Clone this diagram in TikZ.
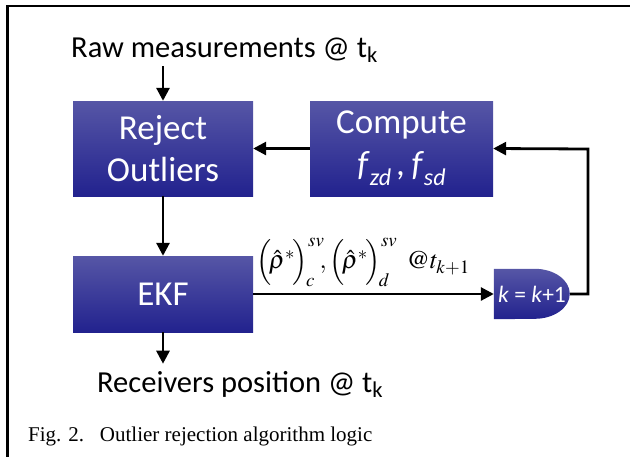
\documentclass[tikz,border=0pt]{standalone}
\usepackage{mathptmx}
\usepackage{graphicx}
\usepackage{fontspec}
\setmainfont{Carlito}
\newfontfamily\capfont{Liberation Serif}
\usetikzlibrary{arrows.meta}

\definecolor{boxtop}{RGB}{86,86,166}
\definecolor{boxbot}{RGB}{34,34,142}

% lowered italic index text used in the block labels
\newcommand{\lowtxt}[1]{\raisebox{-0.28em}{\fontsize{24}{24}\selectfont\textit{#1}}}

\tikzset{
  block/.style={rectangle, top color=boxtop, bottom color=boxbot, text=white,
    font=\fontsize{35}{42}\selectfont, align=center, inner sep=0pt},
  flow/.style={line width=2.8pt, -{Triangle[length=13pt,width=13pt]}},
  lbl/.style={font=\fontsize{30.5}{34}\selectfont, inner sep=0pt},
}

\begin{document}
\begin{tikzpicture}[x=1pt,y=-1pt]
\useasboundingbox (0,0) rectangle (630,456);

% frame (top and left edges)
\draw[line width=2.2pt] (7.5,457) -- (7.5,6) -- (631,6);

% processing blocks
\node[block, minimum width=180pt, minimum height=95pt] (reject) at (163,148.5) {Reject\\Outliers};
\node[block, minimum width=183pt, minimum height=95pt] (compute) at (401.5,148.5)
  {Compute\\\textit{f}\lowtxt{zd}\,\textit{,}\,\textit{f}\lowtxt{sd}};
\node[block, minimum width=180pt, minimum height=76pt] (ekf) at (163,294) {EKF};

% delay block k = k+1
\node[minimum width=76pt, minimum height=50pt, inner sep=0pt] (kk) at (532,294) {};
\shade[top color=boxtop, bottom color=boxbot] (kk.north west) -- ++(41,0)
  arc[start angle=90, end angle=-90, x radius=35pt, y radius=25pt] -- (kk.south west) -- cycle;
\node[text=white, font=\fontsize{23.5}{26}\selectfont, inner sep=0pt] (kklbl) at (kk) {\textit{k} = \textit{k}+1};

% input / output texts
\node[lbl, anchor=base west] (raw) at (71,57) {Raw measurements @ t\textsubscript{k}};
\node[lbl, anchor=base west] (recv) at (97,392) {Receivers position @ t\textsubscript{k}};

% caption
\node[font=\capfont\fontsize{21}{24}\selectfont, anchor=base west, inner sep=0pt] (cap) at (28,441)
  {Fig. 2.\hspace{0.75em}Outlier rejection algorithm logic};

% connectors
\draw[flow, shorten <=4pt] (raw.south -| reject.north) -- (reject.north);
\draw[flow] (reject.south) -- (ekf.north);
\draw[flow] (compute.west) -- (reject.east);
\draw[flow, shorten >=7pt] (ekf.south) -- (ekf.south |- recv.north);
\draw[flow] (ekf.east) -- (kk.west)
  node[pos=0, anchor=south west, xshift=2pt, yshift=6pt, inner sep=0pt] (meas)
  {\scalebox{2.55}{$\Bigl(\!\hat{\rho}^{*}\!\Bigr)_{\!c}^{sv}\!\!,\Bigl(\!\hat{\rho}^{*}\!\Bigr)_{\!d}^{sv}\;\,@t_{k+1}$}};
\coordinate (loop) at (588,149);
\draw[flow] (kk.east) -| (loop) -- (compute.east);
\end{tikzpicture}
\end{document}
